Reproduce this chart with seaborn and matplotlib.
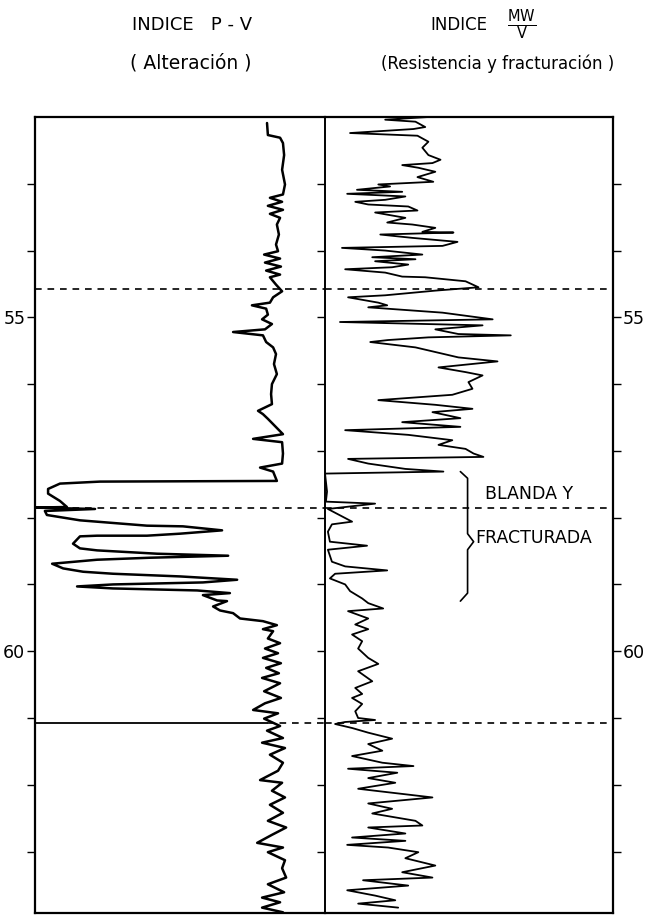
import matplotlib
matplotlib.use("Agg")
import matplotlib.pyplot as plt
import seaborn as sns

# depth (m) and P-V index (0-100 across the left track)
pv_depth = [52.09, 52.27, 52.31, 52.39, 52.57, 52.79, 53.01, 53.16, 53.21, 53.27,
            53.33, 53.39, 53.45, 53.51, 53.61, 53.76, 53.91, 54.01, 54.06, 54.12,
            54.18, 54.24, 54.30, 54.36, 54.40, 54.51, 54.61, 54.70, 54.78, 54.82,
            54.87, 54.96, 55.03, 55.10, 55.18, 55.22, 55.27, 55.37, 55.45, 55.55,
            55.70, 55.85, 56.00, 56.15, 56.30, 56.40, 56.45, 56.52, 56.63, 56.75,
            56.82, 56.87, 57.04, 57.19, 57.25, 57.31, 57.45, 57.46, 57.49, 57.57,
            57.64, 57.75, 57.84, 57.85, 57.87, 57.90, 57.96, 58.04, 58.12, 58.13,
            58.19, 58.24, 58.27, 58.27, 58.28, 58.39, 58.46, 58.49, 58.54, 58.57,
            58.60, 58.63, 58.69, 58.76, 58.81, 58.84, 58.88, 58.93, 58.97, 59.00,
            59.03, 59.06, 59.09, 59.13, 59.16, 59.24, 59.25, 59.33, 59.39, 59.43,
            59.51, 59.55, 59.61, 59.67, 59.70, 59.81, 59.88, 59.96, 60.03, 60.10,
            60.18, 60.25, 60.33, 60.40, 60.48, 60.60, 60.70, 60.78, 60.88, 60.93,
            61.01, 61.12, 61.19, 61.30, 61.37, 61.45, 61.55, 61.67, 61.79, 61.93,
            61.97, 62.09, 62.19, 62.30, 62.42, 62.54, 62.64, 62.75, 62.87, 62.94,
            63.01, 63.13, 63.25, 63.39, 63.49, 63.61, 63.69, 63.76, 63.84, 63.91]
pv_index = [80.0, 80.3, 84.5, 85.5, 85.9, 85.2, 86.2, 85.5, 81.0, 85.2,
            80.3, 85.5, 81.0, 84.5, 83.4, 84.1, 83.1, 83.8, 79.0, 84.5,
            79.3, 84.8, 79.7, 84.5, 81.0, 83.1, 85.2, 82.1, 81.0, 74.8,
            79.7, 80.3, 78.3, 81.7, 79.3, 68.3, 78.6, 79.7, 82.1, 83.1,
            82.4, 83.4, 81.7, 81.4, 81.7, 76.9, 78.6, 80.3, 82.8, 85.5,
            75.2, 85.2, 85.5, 85.2, 77.6, 82.1, 83.4, 22.4, 8.6, 4.5,
            4.5, 8.6, 11.0, 0.0, 20.7, 3.4, 4.1, 15.5, 38.6, 51.0,
            64.5, 50.0, 38.6, 21.4, 15.5, 13.1, 15.5, 21.4, 42.1, 66.6,
            39.7, 21.4, 5.9, 9.7, 16.6, 26.9, 50.0, 69.7, 57.9, 26.9,
            14.5, 26.9, 55.9, 67.2, 57.9, 62.8, 66.2, 61.4, 63.8, 68.3,
            70.7, 78.6, 83.4, 78.6, 82.1, 80.3, 84.5, 79.3, 83.8, 78.6,
            84.8, 79.7, 84.1, 78.3, 84.5, 79.0, 84.8, 79.3, 75.2, 83.8,
            79.0, 84.5, 80.0, 85.5, 78.3, 86.2, 81.0, 85.5, 83.8, 77.6,
            85.2, 81.7, 86.2, 81.0, 85.5, 80.3, 86.6, 81.7, 76.6, 85.5,
            80.3, 86.2, 85.2, 86.6, 80.3, 85.9, 78.3, 84.5, 78.3, 85.5]

# depth (m) and MW/V index (0-100 across the right track)
mw_depth = [52.00, 52.04, 52.07, 52.15, 52.18, 52.24, 52.28, 52.37, 52.46, 52.57,
            52.64, 52.69, 52.72, 52.76, 52.82, 52.90, 52.97, 53.01, 53.04, 53.09,
            53.12, 53.15, 53.19, 53.24, 53.27, 53.31, 53.34, 53.40, 53.43, 53.51,
            53.58, 53.61, 53.66, 53.72, 53.73, 53.76, 53.81, 53.87, 53.93, 53.96,
            54.00, 54.06, 54.10, 54.13, 54.16, 54.21, 54.25, 54.28, 54.33, 54.39,
            54.40, 54.46, 54.55, 54.60, 54.67, 54.70, 54.78, 54.82, 54.85, 54.93,
            54.97, 55.03, 55.07, 55.12, 55.18, 55.25, 55.27, 55.30, 55.34, 55.37,
            55.45, 55.52, 55.60, 55.66, 55.75, 55.82, 55.87, 55.97, 56.07, 56.16,
            56.24, 56.31, 56.37, 56.42, 56.51, 56.57, 56.64, 56.69, 56.76, 56.84,
            56.91, 56.97, 57.04, 57.09, 57.12, 57.19, 57.27, 57.31, 57.34, 57.46,
            57.61, 57.76, 57.79, 57.87, 58.06, 58.10, 58.21, 58.36, 58.42, 58.48,
            58.66, 58.73, 58.79, 58.84, 58.91, 59.00, 59.10, 59.21, 59.28, 59.36,
            59.40, 59.51, 59.60, 59.67, 59.75, 59.85, 59.96, 60.10, 60.19, 60.30,
            60.45, 60.55, 60.64, 60.70, 60.79, 60.90, 61.00, 61.03, 61.06, 61.09,
            61.15, 61.22, 61.31, 61.39, 61.49, 61.57, 61.67, 61.72, 61.76, 61.82,
            61.90, 61.97, 62.06, 62.19, 62.28, 62.36, 62.43, 62.54, 62.61, 62.64,
            62.73, 62.79, 62.84, 62.90, 62.94, 63.01, 63.10, 63.21, 63.31, 63.39,
            63.43, 63.51, 63.58, 63.66, 63.73, 63.78, 63.84]
mw_index = [35.9, 20.9, 31.4, 34.8, 30.7, 8.7, 32.1, 35.9, 33.8, 35.9,
            40.1, 37.3, 26.8, 32.4, 38.3, 32.1, 37.6, 18.5, 22.6, 11.1,
            26.8, 7.7, 27.9, 20.9, 10.5, 15.0, 28.9, 32.1, 17.4, 27.9,
            21.6, 30.3, 38.3, 33.8, 44.6, 19.2, 30.3, 46.0, 40.8, 5.9,
            20.9, 33.8, 16.4, 31.4, 17.4, 28.9, 23.3, 7.0, 20.9, 26.8,
            34.8, 48.8, 53.3, 38.3, 20.9, 8.0, 18.5, 21.6, 15.0, 40.8,
            47.7, 58.2, 5.2, 54.7, 38.3, 46.3, 64.5, 35.9, 21.9, 15.7,
            31.4, 38.3, 46.3, 59.9, 39.4, 48.8, 54.7, 49.8, 51.2, 44.2,
            18.5, 38.3, 51.2, 37.3, 47.0, 26.8, 47.0, 7.0, 28.9, 44.2,
            39.4, 48.8, 51.6, 55.0, 8.0, 15.0, 27.9, 41.1, 0.0, 0.3,
            0.7, 0.3, 17.4, 1.0, 9.4, 2.4, 1.0, 1.7, 14.6, 1.0,
            2.4, 7.0, 21.6, 3.5, 1.7, 7.0, 8.7, 12.9, 15.0, 20.2,
            8.0, 15.0, 10.5, 15.0, 9.4, 12.9, 11.5, 15.0, 18.5, 11.5,
            16.4, 10.5, 12.9, 9.4, 12.9, 10.5, 11.5, 17.4, 7.0, 3.5,
            9.4, 15.0, 23.3, 15.0, 19.9, 9.4, 19.9, 30.7, 8.0, 25.1,
            15.0, 24.4, 11.5, 37.3, 15.0, 23.3, 16.4, 31.4, 33.8, 15.0,
            27.9, 9.4, 27.9, 7.7, 21.9, 32.4, 27.9, 38.3, 26.8, 37.3,
            13.2, 28.9, 7.7, 17.4, 24.4, 11.5, 25.4]

# horizontal reference levels (m)
dashed_levels = [54.57, 57.85, 61.08]
depth_ticks = [53, 54, 55, 56, 57, 58, 59, 60, 61, 62, 63]
labelled_depths = [55, 60]

# "blanda y fracturada" bracket (m)
brace_top, brace_mid, brace_bottom = 57.31, 58.36, 59.25

sns.set_style("white")
plt.rcParams['font.family'] = ['DejaVu Sans']
plt.rcParams['mathtext.fontset'] = 'dejavusans'
plt.rcParams['text.color'] = 'black'

fig = plt.figure(figsize=(6.45, 9.17), dpi=100)
ax1 = fig.add_axes([0.0543, 0.0044, 0.4496, 0.868])
ax2 = fig.add_axes([0.5039, 0.0044, 0.4465, 0.868])

sns.lineplot(x=pv_index, y=pv_depth, sort=False, estimator=None, orient="y",
             color="black", lw=1.8, ax=ax1)
sns.lineplot(x=mw_index, y=mw_depth, sort=False, estimator=None, orient="y",
             color="black", lw=1.3, ax=ax2)

dash = (0, (4, 3.5))
for i, lev in enumerate(dashed_levels):
    if i == 2:
        ax1.axhline(lev, xmax=0.8, color="black", lw=1.3)
        ax1.axhline(lev, xmin=0.8, color="black", lw=1.2, ls=dash)
    else:
        ax1.axhline(lev, color="black", lw=1.2, ls=dash)
    ax2.axhline(lev, color="black", lw=1.2, ls=dash)

tick_labels = [str(d) if d in labelled_depths else "" for d in depth_ticks]
for ax in (ax1, ax2):
    ax.set_xlim(0, 100)
    ax.set_ylim(63.92, 52.0)
    ax.set_xticks([])
    ax.set_yticks(depth_ticks)
    ax.set_yticklabels(tick_labels)
    ax.set_xlabel("")
    ax.set_ylabel("")
    for s in ax.spines.values():
        s.set_color("black")
        s.set_linewidth(1.6)

# left track: outward ticks on the left, short ones poking into the right track
ax1.spines["right"].set_visible(False)
ax1.tick_params(axis="y", left=True, right=True, labelleft=True, labelright=False,
                direction="out", length=6, width=1.0, labelsize=12.5, pad=1,
                colors="black")

# right track: ticks crossing the middle line and labels on the far right
ax2.tick_params(axis="y", left=True, right=True, labelleft=False, labelright=True,
                direction="out", length=6, width=1.0, labelsize=12.5, pad=1,
                colors="black")
ax2.spines["left"].set_linewidth(1.4)

# curly bracket and its label
bx = [47.0, 49.5, 49.5, 51.6, 49.5, 49.5, 47.0]
by = [brace_top, brace_top + 0.1, brace_mid - 0.12, brace_mid,
      brace_mid + 0.12, brace_bottom - 0.12, brace_bottom]
ax2.plot(bx, by, color="black", lw=1.2)
ax2.text(55.7, 57.64, "BLANDA Y", fontsize=12.5, ha="left", va="center")
ax2.text(52.3, 58.31, "FRACTURADA", fontsize=12.5, ha="left", va="center")

# column headings
fig.text(0.298, 0.973, "INDICE   P - V", fontsize=13, ha="center", va="center")
fig.text(0.296, 0.931, "( Alteración )", fontsize=13.5, ha="center", va="center")
fig.text(0.667, 0.973, "INDICE", fontsize=12, ha="left", va="center")
fig.text(0.808, 0.973, r"$\frac{\mathsf{MW}}{\mathsf{V}}$", fontsize=15,
         ha="center", va="center")
fig.text(0.772, 0.931, "(Resistencia y fracturación )", fontsize=12,
         ha="center", va="center")

fig.savefig("out.png", dpi=100, facecolor="white")
